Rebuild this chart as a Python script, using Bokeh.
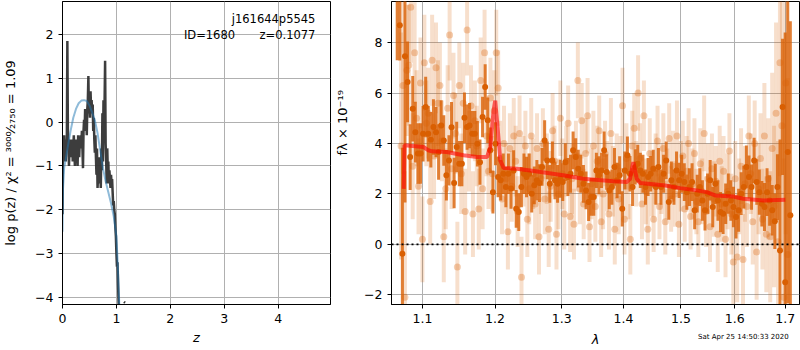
import math
import numpy as np
from bokeh.plotting import figure
from bokeh.layouts import row
from bokeh.models import (Range1d, FixedTicker, CustomJSTickFormatter, Label, ColumnDataSource,
                          LogAxis, LinearAxis)
from bokeh.embed import file_html
from bokeh.resources import INLINE

# ---------------- left panel data: log p(z) ----------------
z_grid = [round(0.01 * k, 2) for k in range(106)]
logpz = [-2.1, -0.4, -0.9, -0.3, -0.7, -0.5, -0.9, -0.4, -0.6, 1.85,
         -0.2, -0.5, -1.0, -0.6, -0.4, -0.8, -0.5, -0.7, -0.4, -0.9,
         -0.6, -0.3, -0.7, -1.0, -0.5, -0.4, -0.9, -0.6, -1.0, -0.3,
         -0.5, -0.8, -0.4, -0.6, -0.3, -0.5, -0.2, -0.6, -1.05, -0.2,
         0.05, -0.2, 0.3, 0.0, 0.2, -0.3, 0.3, 0.5, 1.05, 0.2,
         0.4, 0.1, 0.7, 0.3, 0.5, 0.2, 0.4, -0.2, 0.1, -0.4,
         -0.7, -0.3, -0.8, -1.2, -0.6, -1.5, -1.2, -1.4, -0.8, -1.3,
         -1.0, -1.5, -0.6, -1.1, 0.2, -0.9, 0.5, -0.4, 0.4, 1.4,
         -0.5, -0.9, -1.4, -0.6, -1.1, -0.9, -1.4, -1.1, -1.3, -1.5,
         -1.2, -1.4, -1.3, -1.6, -1.9, -1.8, -2.0, -2.1, -2.4, -2.6,
         -3.0, -3.3, -3.2, -3.7, -4.1, -4.4]
z_tail = [1.14, 1.16]
logpz_tail = [-4.1, -4.12]
z_prior = [0.0, 0.01, 0.03, 0.06, 0.1, 0.15, 0.2, 0.25, 0.3, 0.35, 0.4, 0.45,
           0.5, 0.55, 0.6, 0.65, 0.7, 0.75, 0.8, 0.85, 0.9, 0.95, 1.0, 1.03, 1.06]
logp_prior = [-2.5, -1.5, -1.05, -0.85, -0.55, -0.2, 0.1, 0.3, 0.43, 0.49, 0.5, 0.48,
              0.38, 0.22, 0.04, -0.25, -0.65, -1.05, -1.35, -1.6, -1.85, -2.15, -2.6, -3.4, -4.4]
z_ticks = [0, 1, 2, 3, 4]
lnp_ticks = [-4, -3, -2, -1, 0, 1, 2]

# ---------------- right panel data: spectrum ----------------
lam_bin_first, lam_bin_last = 1.0671, 1.7104
flux_bin = [10.6, 8.69, -0.37, 7.46, 6.44, 3.46, 5.38, 4.45, 3.60, 3.60,
            4.39, 5.45, 4.39, 4.15, 4.65, 4.45, 3.66, 4.71, 4.12, 2.74,
            3.33, 4.64, 2.43, 3.86, 3.20, 3.20, 5.02, 4.65, 4.71, 4.39,
            4.39, 3.99, 3.26, 5.05, 6.24,
            4.92, 3.73, 2.07, 3.99, 2.67, 2.54, 2.80, 2.27, 2.80, 2.21,
            2.93, 1.41, 1.28, 2.27, 2.80, 2.67, 2.80, 2.01, 2.34, 2.54,
            2.43, 3.07, 4.12, 3.33, 2.40, 3.33, 2.54, 2.40, 2.60, 2.47,
            3.26, 2.67, 2.80, 3.73, 3.46, 3.00, 2.80, 2.40, 2.14, 1.68, 1.88,
            1.88, 2.93, 2.74, 2.93, 3.73, 2.87, 2.14, 2.27, 3.07, 2.54,
            2.74, 1.41, 2.93, 3.53, 2.80, 2.27, 3.07, 3.20, 2.93, 2.80,
            2.27, 2.67, 2.80, 3.00, 2.27, 3.07, 2.27, 2.80, 3.33, 1.68,
            2.54, 2.27, 2.93, 2.54, 2.80, 2.47, 2.07, 2.27, 2.47, 1.35,
            2.01, 2.27,
            1.74, 1.35, 2.01, 2.54, 1.48, 2.40, 1.74, 1.28, 1.21, 1.61,
            2.01, 1.74, 1.48, 1.08, 1.35, 2.01, 2.27, 3.07, 2.67, 2.27,
            3.33, 2.47, 2.07, 1.61, 1.48, 2.07, 1.74, 1.35, 0.92, 2.27,
            -0.24, 5.45, -1.50, 3.66, 1.15]
err_bin = [3.3, 1.4, 4.2, 5.8, 1.6, 1.3, 1.3, 1.2, 1.2, 1.2,
           1.1, 1.2, 1.1, 1.1, 1.1, 1.0, 1.1, 1.0, 1.0, 1.0,
           1.0, 1.0, 1.0, 1.0, 0.9, 0.9, 1.0, 0.9, 0.9, 0.9,
           0.9, 0.9, 0.9, 0.8, 0.9,
           0.9, 0.9, 0.85, 0.85, 0.8, 0.8, 0.8, 0.8, 0.8, 0.8,
           0.8, 0.75, 0.75, 0.8, 0.8, 0.8, 0.8, 0.75, 0.75, 0.8,
           0.75, 0.75, 0.8, 0.75, 0.75, 0.75, 0.75, 0.75, 0.75, 0.75,
           0.75, 0.75, 0.75, 0.75, 0.75, 0.75, 0.75, 0.75, 0.75, 0.75, 0.75,
           0.75, 0.7, 0.75, 0.7, 0.75, 0.7, 0.75, 0.7, 0.75, 0.7,
           0.75, 0.7, 0.75, 0.75, 0.7, 0.75, 0.7, 0.75, 0.7, 0.75,
           0.7, 0.75, 0.7, 0.75, 0.7, 0.75, 0.7, 0.75, 0.75, 0.7,
           0.75, 0.7, 0.75, 0.7, 0.75, 0.75, 0.7, 0.75, 0.75, 0.75,
           0.75, 0.75,
           0.8, 0.8, 0.8, 0.8, 0.8, 0.8, 0.8, 0.8, 0.8, 0.8,
           0.8, 0.8, 0.8, 0.85, 0.85, 0.85, 0.85, 0.85, 0.85, 0.9,
           0.9, 0.9, 0.9, 0.9, 0.95, 0.95, 1.0, 1.0, 1.1, 1.3,
           4.4, 2.7, 9.9, 6.0, 7.7]
lam_unb_first, lam_unb_last = 1.072, 1.705
flux_unb = [3.9, 6.3, -2.1, 6.9, 7.1, 9.4, 3.1, 7.6, 5.0, 2.3,
            6.4, 0.2, 7.2, 4.8, 5.2, 1.7, 7.3, 3.5, 7.0, 5.6,
            6.3, 4.1, 0.3, 2.2, 5.4, 8.3, 3.0, 5.9, 4.4, -0.9,
            6.3, 2.8, 5.6, 1.3, 8.5, 3.7, 5.5, 1.2, 4.9, 3.9,
            1.4, 6.5, 2.2, 7.6, 4.3, 2.9, 5.8, 2.8, 5.3, 7.6,
            6.2, 3.4, 1.8, 4.0, 2.6, 0.5, 3.8, 2.3, 4.3, 3.3,
            1.3, 4.4, -1.3, 2.9, 3.9, 1.0, 2.2, 4.3, 2.8, 1.6,
            3.8, 0.3, 2.6, 4.0, 1.8, 3.0, 0.6, 2.3, 4.5, 3.3,
            0.4, 2.0, 5.0, 2.8, 1.2, 3.3, 4.8, 1.1, 2.6, 0.8,
            3.5, 6.5, 2.2, 4.9, 1.6, 3.6, 5.1, 0.7, 2.4, 3.9,
            1.5, 3.3, 4.5, 0.9, 2.0, 3.6, 2.7, 1.2, 4.4, 2.5,
            0.6, 3.1, 1.8, 2.9, 5.5, 1.0, 3.4, 2.3, 0.2, 3.9,
            4.6, 2.8, 6.0, 3.4, 1.6, 5.1, 2.1, 0.6, 3.6, 2.4,
            1.0, 3.0, 4.1, 1.5, 2.6, 3.8, 0.9, 2.4, 4.2, 1.8,
            3.1, 2.0, 4.3, 0.8, 2.7, 3.5, 1.4, 2.9, 4.0, 1.1,
            2.4, 3.6, 1.7, 0.9, 3.2, 2.1, 4.4, 1.3, 2.6, 0.7,
            3.0, 1.8, 2.5, 0.4, 3.3, 1.6, 2.9, 0.2, 2.1, 3.7,
            1.2, -0.7, 2.6, -0.5, 1.9, 3.1, -0.6, 2.4, 1.5, 4.3,
            2.8, 0.9, 4.0, -0.3, 2.2, 3.4, 1.0, 4.3, 0.4, 2.6,
            0.3, 3.8, 1.5, 5.2, 0.1, 7.2, 4.7, -2.1, 6.4, -0.4]
err_unb = [4.5, 3.5, 5.0, 2.6, 2.4, 2.2, 2.1, 2.0, 1.9, 1.9,
           1.8, 1.7, 1.9, 1.7, 1.8, 1.7, 1.8, 1.7, 1.8, 1.7,
           1.7, 1.6, 1.8, 1.6, 1.7, 1.8, 1.6, 1.7, 1.6, 1.8,
           1.7, 1.6, 1.6, 1.7, 1.8, 1.6, 1.6, 1.7, 1.6, 1.6,
           1.6, 1.7, 1.6, 1.7, 1.6, 1.5, 1.6, 1.5, 1.6, 1.7,
           1.5, 1.5, 1.4, 1.5, 1.4, 1.5, 1.4, 1.4, 1.5, 1.4,
           1.4, 1.5, 1.6, 1.4, 1.4, 1.5, 1.4, 1.5, 1.4, 1.4,
           1.4, 1.5, 1.4, 1.4, 1.4, 1.4, 1.5, 1.4, 1.5, 1.4,
           1.4, 1.4, 1.5, 1.4, 1.4, 1.4, 1.5, 1.4, 1.4, 1.4,
           1.4, 1.5, 1.4, 1.5, 1.4, 1.4, 1.5, 1.4, 1.4, 1.4,
           1.4, 1.4, 1.4, 1.4, 1.4, 1.3, 1.4, 1.4, 1.4, 1.4,
           1.4, 1.3, 1.4, 1.4, 1.5, 1.4, 1.4, 1.3, 1.4, 1.4,
           1.4, 1.3, 1.5, 1.4, 1.4, 1.4, 1.3, 1.4, 1.4, 1.3,
           1.3, 1.4, 1.4, 1.3, 1.4, 1.4, 1.3, 1.4, 1.4, 1.3,
           1.4, 1.3, 1.4, 1.3, 1.4, 1.4, 1.3, 1.4, 1.4, 1.3,
           1.4, 1.4, 1.3, 1.4, 1.4, 1.3, 1.5, 1.4, 1.4, 1.4,
           1.4, 1.5, 1.4, 1.5, 1.4, 1.5, 1.4, 1.5, 1.5, 1.5,
           1.6, 2.0, 1.5, 1.8, 1.5, 1.5, 1.8, 1.5, 1.6, 1.6,
           1.6, 1.7, 1.7, 1.9, 1.8, 1.8, 2.0, 2.1, 2.3, 2.4,
           2.6, 3.0, 3.2, 3.6, 4.0, 4.5, 5.0, 5.5, 6.0, 7.0]
lam_model = [1.0755, 1.0765, 1.1013, 1.1078, 1.1123, 1.1325, 1.1555, 1.1743, 1.1885, 1.1932,
             1.1979, 1.2003, 1.2037, 1.2076, 1.2124, 1.2319, 1.2518, 1.3023, 1.3339, 1.3831,
             1.4055, 1.4111, 1.4167, 1.4225, 1.4282, 1.4688, 1.4985, 1.5288, 1.5473, 1.5628,
             1.5971, 1.6164, 1.6564, 1.7002]
flux_model = [2.2, 3.93, 3.86, 3.73, 3.69, 3.66, 3.53, 3.46, 3.46, 3.86,
              5.3, 5.7, 4.65, 3.33, 3.03, 3.0, 2.93, 2.74, 2.6, 2.5,
              2.47, 2.6, 3.26, 2.6, 2.43, 2.34, 2.23, 2.14, 2.07, 1.94,
              1.90, 1.81, 1.74, 1.77]
lam_ticks = [1.1, 1.2, 1.3, 1.4, 1.5, 1.6, 1.7]
flux_ticks = [-2, 0, 2, 4, 6, 8]

title_line1 = "j161644p5545"
title_id = "ID=1680"
title_z = "z=0.1077"
timestamp = "Sat Apr 25 14:50:33 2020"
timestamp_at = 1.6166
flux_label_js = "f\\u03bb \\u00d7 10\\u207b\\u00b9\\u2079"   # f_lambda x 10^-19
flux_label_at = -0.76   # vertical centre of the right frame, in left-panel units

# ---------------- styling helpers ----------------
FONT = "DejaVu Sans"
ORANGE = "#d95f02"
minus_fmt = "return tick.toString().replace('-', '\u2212');"


def style(p):
    p.outline_line_color = "black"
    p.outline_line_width = 1
    p.outline_line_alpha = 1
    p.background_fill_color = "white"
    p.border_fill_color = "white"
    for ax in p.axis:
        ax.major_tick_out = 4
        ax.major_tick_in = 0
        ax.major_tick_line_color = "black"
        ax.minor_tick_line_color = None
        ax.axis_line_color = "black"
        ax.major_label_text_font = FONT
        ax.major_label_text_font_size = "12.5px"
        ax.major_label_text_color = "black"
        ax.major_label_standoff = 5
        ax.axis_label_text_font = FONT
        ax.axis_label_text_font_size = "13px"
        ax.axis_label_text_color = "black"
    for g in p.grid:
        g.grid_line_color = "#b0b0b0"
        g.grid_line_width = 1
        g.minor_grid_line_color = None


# ---------------- left figure ----------------
p1 = figure(width=360, height=350, x_range=Range1d(0, 4.97), y_range=Range1d(-4.16, 2.75),
            output_backend="svg", toolbar_location=None,
            min_border_left=62, min_border_right=27, min_border_top=1, min_border_bottom=46)
style(p1)
p1.xaxis.ticker = FixedTicker(ticks=z_ticks)
p1.yaxis.ticker = FixedTicker(ticks=lnp_ticks)
p1.xgrid.ticker = FixedTicker(ticks=z_ticks)
p1.ygrid.ticker = FixedTicker(ticks=lnp_ticks)
p1.yaxis.formatter = CustomJSTickFormatter(code=minus_fmt)
p1.xaxis.axis_label = "z"
p1.xaxis.axis_label_text_font_style = "italic"
p1.xaxis.axis_label_standoff = 4
p1.yaxis.axis_label = "log p(z) / \u03c7\u00b2 = \u00b3\u2070\u2070\u2070\u2044\u2082\u2087\u2085\u2080 = 1.09"
p1.yaxis.axis_label_text_font_style = "normal"
p1.yaxis.axis_label_standoff = 14

# the right panel's y label, carried by a tick-less axis on the right edge of the left figure
flux_lab_axis = LinearAxis(ticker=FixedTicker(ticks=[flux_label_at]),
                           formatter=CustomJSTickFormatter(code="return '" + flux_label_js + "';"),
                           axis_line_color=None, major_tick_line_color=None, minor_tick_line_color=None,
                           major_tick_out=0, major_tick_in=0, major_label_orientation=math.pi / 2,
                           major_label_standoff=12, major_label_text_font=FONT,
                           major_label_text_font_size="13px", major_label_text_color="black")
p1.add_layout(flux_lab_axis, "right")

p1.line(z_grid, logpz, line_color="#333333", line_width=2.5, line_alpha=0.95)
p1.line(z_tail, logpz_tail, line_color="#333333", line_width=2.5)
p1.line(z_prior, logp_prior, line_color="#1f77b4", line_width=2, line_alpha=0.5)

p1.add_layout(Label(x=4.69, y=2.34, text=title_line1, text_align="right", text_baseline="middle",
                    text_font=FONT, text_font_size="11.5px", text_color="black"))
p1.add_layout(Label(x=3.20, y=1.99, text=title_id, text_align="right", text_baseline="middle",
                    text_font=FONT, text_font_size="11.5px", text_color="black"))
p1.add_layout(Label(x=4.69, y=1.99, text=title_z, text_align="right", text_baseline="middle",
                    text_font=FONT, text_font_size="11.5px", text_color="black"))

# ---------------- right figure ----------------
lam_bin = np.geomspace(lam_bin_first, lam_bin_last, len(flux_bin))
lam_unb = np.geomspace(lam_unb_first, lam_unb_last, len(flux_unb))
fb = np.array(flux_bin)
eb = np.array(err_bin)
fu = np.array(flux_unb)
eu = np.array(err_unb)
src_b = ColumnDataSource(dict(x=lam_bin, y=fb, lo=fb - eb, hi=fb + eb))
src_u = ColumnDataSource(dict(x=lam_unb, y=fu, lo=fu - eu, hi=fu + eu))

p2 = figure(width=440, height=350, x_axis_type="log",
            x_range=Range1d(1.0598, 1.7293), y_range=Range1d(-2.385, 9.63),
            output_backend="svg", toolbar_location=None,
            min_border_left=31, min_border_right=1, min_border_top=1, min_border_bottom=46)
style(p2)
p2.xaxis.ticker = FixedTicker(ticks=lam_ticks)
p2.xgrid.ticker = FixedTicker(ticks=lam_ticks)
p2.yaxis.ticker = FixedTicker(ticks=flux_ticks)
p2.ygrid.ticker = FixedTicker(ticks=flux_ticks)
p2.xaxis.formatter = CustomJSTickFormatter(code="return tick.toFixed(1);")
p2.yaxis.formatter = CustomJSTickFormatter(code=minus_fmt)

# second (label) axis below: carries the timestamp as its only tick label and the lambda label
ax_b = LogAxis(ticker=FixedTicker(ticks=[timestamp_at]),
               formatter=CustomJSTickFormatter(code="return '" + timestamp + "';"),
               axis_line_color=None, major_tick_line_color=None, minor_tick_line_color=None,
               major_tick_out=0, major_tick_in=0,
               major_label_text_font=FONT, major_label_text_font_size="7px",
               major_label_text_color="black", major_label_standoff=7,
               axis_label="\u03bb", axis_label_text_font=FONT, axis_label_text_font_size="13px",
               axis_label_text_font_style="italic", axis_label_text_color="black",
               axis_label_standoff=-12)
p2.add_layout(ax_b, "below")

p2.segment(x0="x", y0="lo", x1="x", y1="hi", source=src_u, line_color=ORANGE, line_width=4, line_alpha=0.2)
p2.scatter("x", "y", source=src_u, size=7, fill_color=ORANGE, fill_alpha=0.3, line_color=None)
p2.segment(x0="x", y0="lo", x1="x", y1="hi", source=src_b, line_color=ORANGE, line_width=3, line_alpha=0.8)
p2.scatter("x", "y", source=src_b, size=6, fill_color=ORANGE, fill_alpha=1, line_color=None)
p2.line(lam_model, flux_model, line_color="red", line_width=4, line_alpha=0.6)
p2.line([1.0598, 1.7293], [0, 0], line_color="black", line_width=1.8, line_dash="2 3")

layout = row(p1, p2)
open("out.html", "w").write(file_html(layout, INLINE))
